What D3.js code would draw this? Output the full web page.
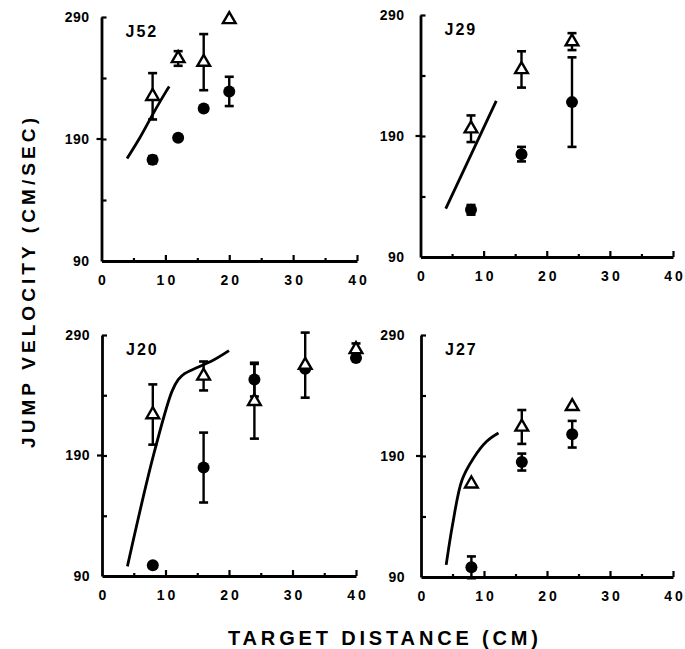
<!DOCTYPE html>
<html>
<head>
<meta charset="utf-8">
<script src="https://cdn.jsdelivr.net/npm/d3@7"></script>
<style>
  body { margin: 0; background: #fff; }
  text { font-family: "Liberation Sans", Arial, sans-serif; font-weight: bold; fill: #000; }
</style>
</head>
<body>
<svg id="chart" width="685" height="649"></svg>
<script>
// values: x = target distance (cm), y = jump velocity (cm/sec), e = error bar half-length
const xTicks = [0, 10, 20, 30, 40];
const xMarks = [5, 10, 15, 20, 25, 30, 35, 40];
const yTicks = [90, 190, 290];
const yMarks = [140, 190, 240, 290];

const j52Tri = [{x: 8, y: 225, e: 19}, {x: 12, y: 256, e: 6}, {x: 16, y: 253, e: 23}, {x: 20, y: 288, e: 0}];
const j52Dot = [{x: 8, y: 173, e: 3}, {x: 12, y: 191, e: 0}, {x: 16, y: 215, e: 0}, {x: 20, y: 229, e: 12}];
const j52Curve = [[4, 174], [6, 191], [8, 210], [10, 228], [10.6, 233]];

const j29Tri = [{x: 8, y: 196, e: 11}, {x: 16, y: 245, e: 15}, {x: 24, y: 268, e: 7}];
const j29Dot = [{x: 8, y: 129, e: 4}, {x: 16, y: 175, e: 6}, {x: 24, y: 218, e: 37}];
const j29Curve = [[4, 130], [12, 219]];

const j20Tri = [{x: 8, y: 224, e: 25}, {x: 16, y: 256, e: 12}, {x: 24, y: 235, e: 31}, {x: 32, y: 265, e: 27}, {x: 40, y: 278, e: 5}];
const j20Dot = [{x: 8, y: 99, e: 0}, {x: 16, y: 180, e: 29}, {x: 24, y: 253, e: 14}, {x: 32, y: 262, e: 0}, {x: 40, y: 271, e: 0}];
const j20Curve = [[4, 98], [8, 188], [11, 243], [12, 253], [13, 258], [15, 263], [17.5, 269], [20, 277]];

const j27Tri = [{x: 8, y: 167, e: 0}, {x: 16, y: 214, e: 14}, {x: 24, y: 231, e: 0}];
const j27Dot = [{x: 8, y: 98, e: 9}, {x: 16, y: 185, e: 7}, {x: 24, y: 208, e: 11}];
const j27Curve = [[4, 100], [5, 133], [6.5, 170], [8.3, 188], [10.4, 202], [12.3, 209]];

//panel layout : box = [left, right, top, bottom] in pixels
const panels = [
  {name: "J52", tri: j52Tri, dot: j52Dot, curve: j52Curve, box: [101.5, 357, 17, 261], pad: 12},
  {name: "J29", tri: j29Tri, dot: j29Dot, curve: j29Curve, box: [420.5, 673, 15, 257], pad: 16},
  {name: "J20", tri: j20Tri, dot: j20Dot, curve: j20Curve, box: [102, 356, 335, 576], pad: 12},
  {name: "J27", tri: j27Tri, dot: j27Dot, curve: j27Curve, box: [421, 673, 335, 577], pad: 16}
];

const svg = d3.select("#chart");
svg.append("rect").attr("width", 685).attr("height", 649).attr("fill", "#fff");

function drawPanel(p) {
  let x = d3.scaleLinear().domain([0, 40]).range([p.box[0], p.box[1]]);
  let y = d3.scaleLinear().domain([90, 290]).range([p.box[3], p.box[2]]);
  let g = svg.append("g");

  //y axis line with inward ticks
  let ya = g.append("g").attr("transform", `translate(${x(0)},0)`)
    .call(d3.axisRight(y).tickValues(yMarks).tickSize(5).tickSizeOuter(0).tickFormat(""));
  ya.select(".domain").attr("stroke-width", 2.8);
  ya.selectAll(".tick line").attr("stroke-width", 2.2);
  //small outward tick at 190
  g.append("line").attr("x1", x(0) - 5).attr("x2", x(0)).attr("y1", y(190)).attr("y2", y(190))
    .attr("stroke", "#000").attr("stroke-width", 2.2);

  //x axis line with upward ticks, minor ones shorter
  let xa = g.append("g").attr("transform", `translate(0,${y(90)})`)
    .call(d3.axisTop(x).tickValues(xMarks).tickSize(5).tickSizeOuter(0).tickFormat(""));
  xa.select(".domain").attr("stroke-width", 2.8);
  xa.selectAll(".tick line").attr("stroke-width", 2.2).attr("y2", d => d % 10 === 0 ? -6 : -3);

  //tick labels
  let yl = g.append("g").attr("transform", `translate(${x(0)},0)`)
    .call(d3.axisLeft(y).tickValues(yTicks).tickSize(0).tickPadding(p.pad));
  yl.select(".domain").remove();
  yl.selectAll("text").style("font-size", "14px").style("letter-spacing", "0.5px");

  let xl = g.append("g").attr("transform", `translate(0,${y(90)})`)
    .call(d3.axisBottom(x).tickValues(xTicks).tickSize(0).tickPadding(14));
  xl.select(".domain").remove();
  xl.selectAll("text").style("font-size", "14px").style("letter-spacing", "3px").attr("dx", "1.5px");

  //model curve
  g.append("path").datum(p.curve)
    .attr("d", d3.line().x(d => x(d[0])).y(d => y(d[1])).curve(d3.curveCatmullRom))
    .attr("fill", "none").attr("stroke", "#000").attr("stroke-width", 2.8);

  //error bars for both series
  let bars = p.dot.concat(p.tri).filter(d => d.e > 0);
  bars.forEach(d => {
    let cx = x(d.x);
    g.append("line").attr("x1", cx).attr("x2", cx).attr("y1", y(d.y - d.e)).attr("y2", y(d.y + d.e))
      .attr("stroke", "#000").attr("stroke-width", 2.4);
    [d.y - d.e, d.y + d.e].forEach(v => {
      g.append("line").attr("x1", cx - 4.5).attr("x2", cx + 4.5).attr("y1", y(v)).attr("y2", y(v))
        .attr("stroke", "#000").attr("stroke-width", 2.6);
    });
  });

  //filled circles
  g.selectAll(".dot").data(p.dot).enter().append("circle")
    .attr("class", "dot")
    .attr("cx", d => x(d.x)).attr("cy", d => y(d.y)).attr("r", 6)
    .attr("fill", "#000");

  //open triangles
  g.selectAll(".tri").data(p.tri).enter().append("path")
    .attr("class", "tri")
    .attr("d", d3.symbol(d3.symbolTriangle, 70))
    .attr("transform", d => `translate(${x(d.x)},${y(d.y)})`)
    .attr("fill", "#fff").attr("stroke", "#000").attr("stroke-width", 2.4);

  //panel name
  g.append("text").attr("x", x(0) + 24).attr("y", y(290) + 20)
    .style("font-size", "16px").style("letter-spacing", "2px")
    .text(p.name);
}

panels.forEach(drawPanel);

//axis titles
svg.append("text")
  .attr("transform", "translate(35,283) rotate(-90)")
  .attr("text-anchor", "middle")
  .attr("textLength", 330).attr("lengthAdjust", "spacing")
  .style("font-size", "19px")
  .text("JUMP VELOCITY (CM/SEC)");

svg.append("text")
  .attr("x", 383).attr("y", 645)
  .attr("text-anchor", "middle")
  .attr("textLength", 310).attr("lengthAdjust", "spacing")
  .style("font-size", "20px")
  .text("TARGET DISTANCE (CM)");
</script>
</body>
</html>
